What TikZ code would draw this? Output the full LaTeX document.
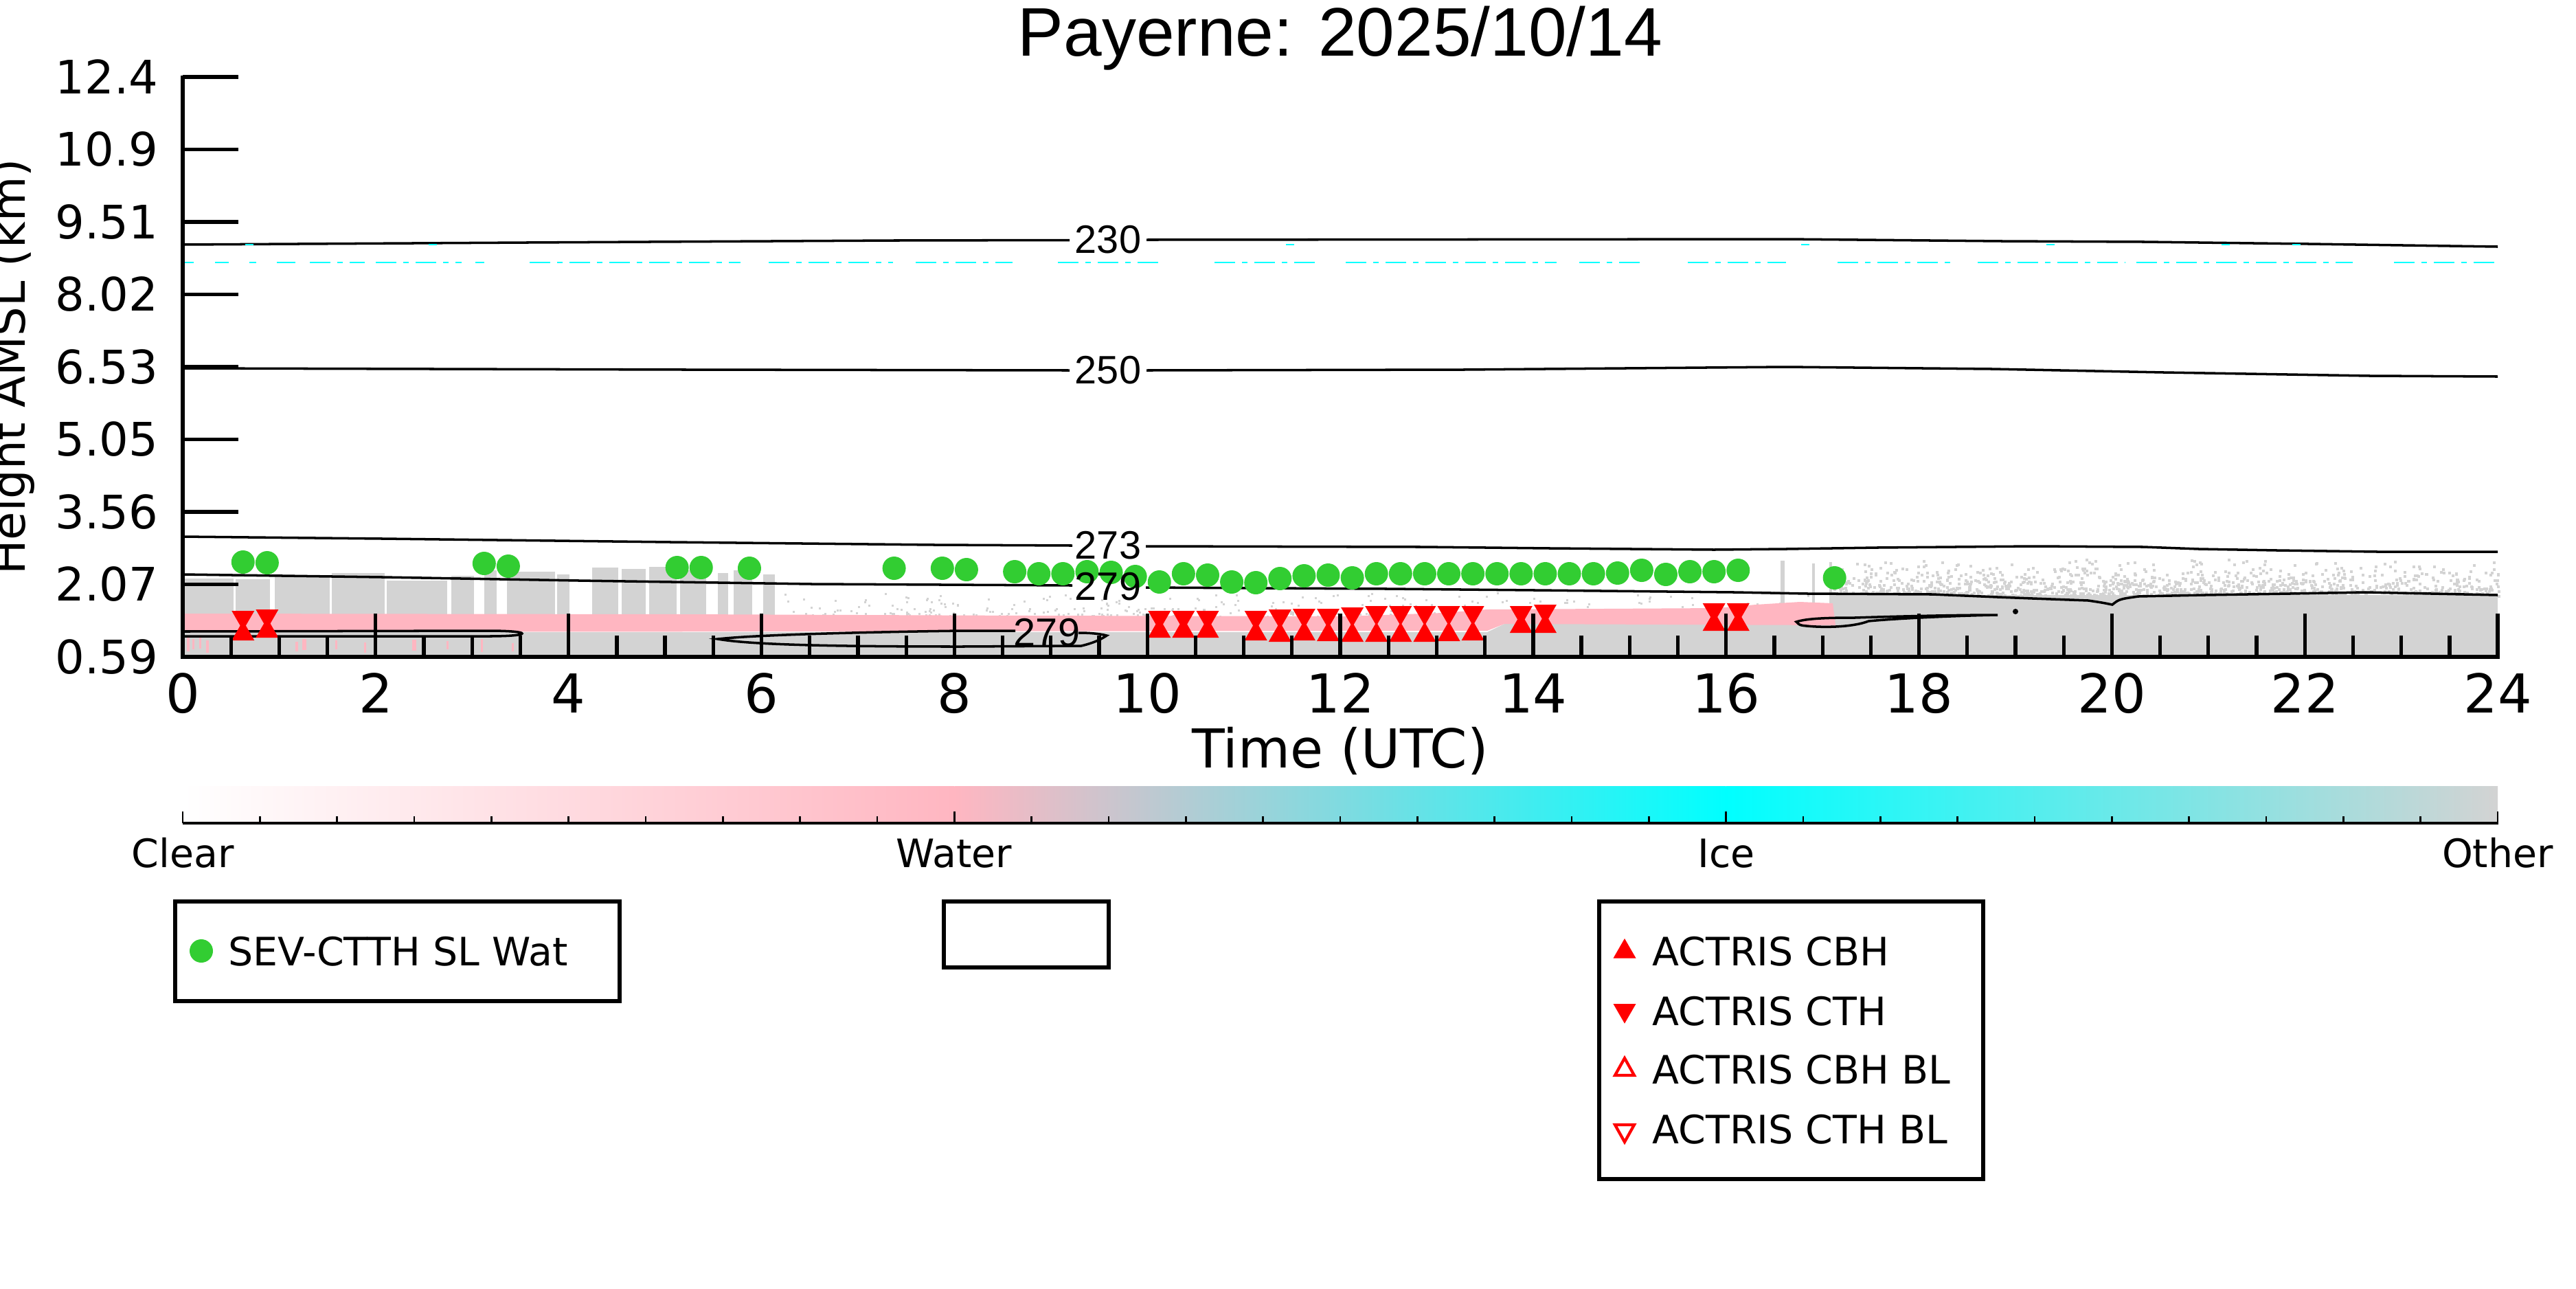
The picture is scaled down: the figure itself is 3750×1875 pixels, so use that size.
\documentclass[tikz,border=0pt]{standalone}
\usepackage{fontspec}
\setmainfont{DejaVu Sans}
\newfontfamily\arialfont{Liberation Sans}
\definecolor{waterpink}{RGB}{255,182,193}
\definecolor{othergray}{RGB}{211,211,211}
\definecolor{sevgreen}{RGB}{50,205,50}
\definecolor{icecyan}{RGB}{0,255,255}
\tikzset{
	axisline/.style={line width=1.5pt},
	isoline/.style={line width=1pt},
	boxline/.style={line width=1.5pt},
	icedash/.style={icecyan, line width=0.7pt, dash pattern=on 0.3cm off 0.1cm on 0.08cm off 0.1cm},
	titletext/.style={font=\arialfont\fontsize{28.45}{34}\selectfont, inner sep=0pt},
	isolab/.style={font=\arialfont\fontsize{16.4}{20}\selectfont, inner sep=0pt},
	xticklab/.style={font=\fontsize{22.2}{26}\selectfont, inner sep=0pt},
	yticklab/.style={font=\fontsize{19.1}{23}\selectfont, inner sep=0pt},
	legtext/.style={font=\fontsize{16.2}{19}\selectfont, inner sep=0pt},
}
\newcommand{\cthmark}[2]{\fill[red] ({#1-16.5},#2) -- ({#1+16.5},#2) -- ({#1},{#2+28.6}) -- cycle;}
\newcommand{\cbhmark}[2]{\fill[red] ({#1-16.5},#2) -- ({#1+16.5},#2) -- ({#1},{#2-28.6}) -- cycle;}
\begin{document}
\begin{tikzpicture}[x=0.01cm,y=-0.01cm]
	\useasboundingbox (0,0) rectangle (3750,1875);
	\node[titletext, anchor=base] (title) at (1951,81) {Payerne: 2025/10/14};

	% cloud type image
	\fill[othergray] (266,920) -- (2165,920) -- (2190,908) -- (3636,908) -- (3636,956) -- (266,956) -- cycle;
	\fill[othergray] (2667,866) rectangle (3636,956);
	\foreach \a/\b/\c in {268/340/842, 343/393/843, 400/480/837, 483/560/834, 563/651/845, 657/690/838, 705/723/830, 738/808/832, 811/829/836, 862/900/826, 905/940/828, 945/985/825, 990/1028/830, 1045/1060/834, 1068/1095/830, 1111/1128/836, 2592/2598/816, 2638/2642/820, 2663/2667/818}
		\fill[othergray] (\a,\c) rectangle (\b,895);
	\pgfmathsetseed{7}
	\foreach \i in {1,...,1300}
		\fill[othergray] ({2667+969*rnd},{866-56*rnd*rnd}) rectangle ++(4,4);
	\foreach \i in {1,...,400}
		\fill[othergray] ({1128+1539*rnd},{896-42*rnd*rnd}) rectangle ++(3,3);
	\fill[waterpink] (266,893) -- (1000,894) -- (1500,896) -- (1960,897) -- (2100,892) -- (2165,887) -- (2500,885) -- (2556,880) -- (2620,876) -- (2668,878) -- (2672,910) -- (2190,908) -- (2165,918) -- (266,920) -- cycle;
	\foreach \a/\b/\c/\d in {272/276/928/948, 280/283/930/945, 290/293/926/944, 300/304/932/950, 430/434/934/948, 440/446/930/946, 488/491/932/945, 530/533/935/950, 600/606/931/947, 650/653/933/945, 700/703/930/949, 745/748/936/948}
		\fill[waterpink] (\a,\c) rectangle (\b,\d);

	% isotherms
	\draw[isoline] (266,356) -- (766,353) -- (1300,350) -- (1557,349.5);
	\draw[isoline] (1669,349) -- (2600,348) -- (2915,351) -- (3122,352) -- (3361,355) -- (3636,359);
	\draw[isoline] (266,536) -- (1000,538) -- (1557,539);
	\draw[isoline] (1669,539) -- (2130,538) -- (2600,534) -- (2900,537) -- (3150,542) -- (3450,547) -- (3636,548);
	\draw[isoline] (266,781) -- (557,784) -- (977,789) -- (1361,793) -- (1561,794);
	\draw[isoline] (1668,795) -- (2070,796) -- (2257,798) -- (2495,800) -- (2600,799) -- (2732,797) -- (2959,795) -- (3120,796) -- (3201,799) -- (3315,801) -- (3461,803) -- (3636,803);
	\draw[isoline] (266,836) -- (557,840) -- (843,845) -- (1182,850) -- (1561,852);
	\draw[isoline] (1668,855) -- (2020,857) -- (2235,859) -- (2525,862) -- (2632,864) -- (2813,865) -- (2908,869) -- (2959,871) -- (3040,874) .. controls (3060,877) .. (3075,880) .. controls (3085,872) .. (3113,868) -- (3209,866) -- (3333,864) -- (3443,862) -- (3636,866);
	\draw[isoline] (266,919) -- (710,918) .. controls (745,918) and (760,920) .. (760,922) .. controls (760,924) and (745,926) .. (710,926) -- (266,926);
	\draw[isoline] (1478,918) -- (1400,918) .. controls (1250,920) and (1100,924) .. (1045,930) .. controls (1090,938) and (1200,941) .. (1400,941) -- (1574,940) .. controls (1595,935) and (1605,929) .. (1611,925) .. controls (1600,922) and (1585,921) .. (1570,921);
	\draw[isoline] (2615,905) .. controls (2630,900) and (2660,899) .. (2700,899) .. controls (2760,897) and (2850,895) .. (2908,895) .. controls (2850,896) and (2760,900) .. (2720,904) .. controls (2700,912) and (2660,914) .. (2630,911) .. controls (2620,910) .. (2615,905) -- cycle;
	\fill (2934,890) circle (4);

	% ice layer
	\foreach \a/\b in {269/282, 313/333, 363/373, 403/430, 451/531, 547/672, 692/705, 771/1078, 1119/1300, 1333/1474, 1540/1690, 1768/1918, 1959/2266, 2299/2395, 2457/2600, 2675/2847, 2879/3094, 3110/3425, 3485/3636}
		\draw[icedash] (\a,382) -- (\b,382);
	\foreach \a in {357, 624, 1872, 2622, 2979, 3234, 3337}
		\draw[icecyan, line width=0.7pt] (\a,356) -- ++(12,0);

	% SEV-CTTH
	\foreach \hr/\r in {0.625/818, 0.875/819, 3.125/820, 3.375/824, 5.125/826, 5.375/826, 5.875/827, 7.375/827, 7.875/827, 8.125/829, 8.625/832, 8.875/835, 9.125/835, 9.375/832, 9.625/833, 9.875/839, 10.125/847, 10.375/835, 10.625/837, 10.875/847, 11.125/848, 11.375/842, 11.625/838, 11.875/837, 12.125/841, 12.375/835, 12.625/835, 12.875/835, 13.125/835, 13.375/835, 13.625/835, 13.875/835, 14.125/835, 14.375/835, 14.625/835, 14.875/834, 15.125/830, 15.375/836, 15.625/832, 15.875/832, 16.125/830, 17.125/841}
		\fill[sevgreen] ({266+140.42*\hr},\r) circle (17);

	% ACTRIS
	\foreach \hr/\tp/\bt in {0.625/889/932, 0.875/887/928, 10.125/889/928, 10.375/889/928, 10.625/889/928, 11.125/889/932, 11.375/887/934, 11.625/886/932, 11.875/886/933, 12.125/884/934, 12.375/882/934, 12.625/882/934, 12.875/882/934, 13.125/882/933, 13.375/882/932, 13.875/882/921, 14.125/880/921, 15.875/878/918, 16.125/878/918}
		{\cthmark{266+140.42*\hr}{\tp}\cbhmark{266+140.42*\hr}{\bt}}

	\node[isolab] (iso230) at (1613,349) {230};
	\node[isolab] (iso250) at (1613,539) {250};
	\node[isolab] (iso273) at (1613,794) {273};
	\node[isolab] (iso279) at (1613,854) {279};
	\node[isolab] (iso279b) at (1524,921) {279};

	% axes
	\draw[axisline] (266,109.5) -- (266,956) -- (3638.5,956);
	\foreach \lab [count=\k from 0] in {0.59,2.07,3.56,5.05,6.53,8.02,9.51,10.9,12.4} {
		\draw[axisline] (266,{956-105.5*\k}) -- ++(81,0);
		\node[yticklab, anchor=east] (yt\k) at (231,{956-105.5*\k}) {\lab};
	}
	\foreach \i in {0,...,48} {
		\pgfmathsetmacro\ticklen{mod(\i,4)==0 ? 63 : 31}
		\draw[axisline] ({266+70.21*\i},956) -- ++(0,-\ticklen);
	}
	\foreach \hr in {0,2,...,24}
		\node[xticklab, anchor=base] (xt\hr) at ({266+140.42*\hr},1037) {\hr};
	\node[xticklab, anchor=base] (xlab) at (1951,1117) {Time (UTC)};
	\node[yticklab, rotate=90, anchor=base] (ylab) at (36,534) {Height AMSL (km)};

	% colour bar
	\shade[left color=white, right color=waterpink] (266,1144) rectangle (1389.3,1198);
	\shade[left color=waterpink, right color=icecyan] (1389.3,1144) rectangle (2512.7,1198);
	\shade[left color=icecyan, right color=othergray] (2512.7,1144) rectangle (3636,1198);
	\draw[line width=1.1pt] (266,1198) -- (3637,1198);
	\foreach \i in {0,...,30} {
		\pgfmathsetmacro\ticklen{mod(\i,10)==0 ? 17 : 10}
		\draw[line width=0.8pt] ({266+112.33*\i},1198) -- ++(0,-\ticklen);
	}
	\node[legtext, anchor=base] (cbclear) at (266,1262) {Clear};
	\node[legtext, anchor=base] (cbwater) at (1389,1262) {Water};
	\node[legtext, anchor=base] (cbice) at (2513,1262) {Ice};
	\node[legtext, anchor=base] (cbother) at (3636,1262) {Other};

	% legends
	\draw[boxline] (255,1312) rectangle (902,1457);
	\fill[sevgreen] (293,1384) circle (17);
	\node[legtext, anchor=base west] (legsev) at (332,1405) {SEV-CTTH SL Wat};
	\draw[boxline] (1374,1312) rectangle (1614,1408);
	\draw[boxline] (2328,1312) rectangle (2887,1716);
	\cbhmark{2365}{1394.5}
	\node[legtext, anchor=base west] (legcbh) at (2405,1405) {ACTRIS CBH};
	\cthmark{2365}{1461}
	\node[legtext, anchor=base west] (legcth) at (2405,1492) {ACTRIS CTH};
	\draw[red, line width=1.2pt, line join=miter] (2351,1565) -- (2379,1565) -- (2365,1540) -- cycle;
	\node[legtext, anchor=base west] (legcbhbl) at (2405,1577) {ACTRIS CBH BL};
	\draw[red, line width=1.2pt, line join=miter] (2351,1637) -- (2379,1637) -- (2365,1662) -- cycle;
	\node[legtext, anchor=base west] (legcthbl) at (2405,1664) {ACTRIS CTH BL};
\end{tikzpicture}
\end{document}
